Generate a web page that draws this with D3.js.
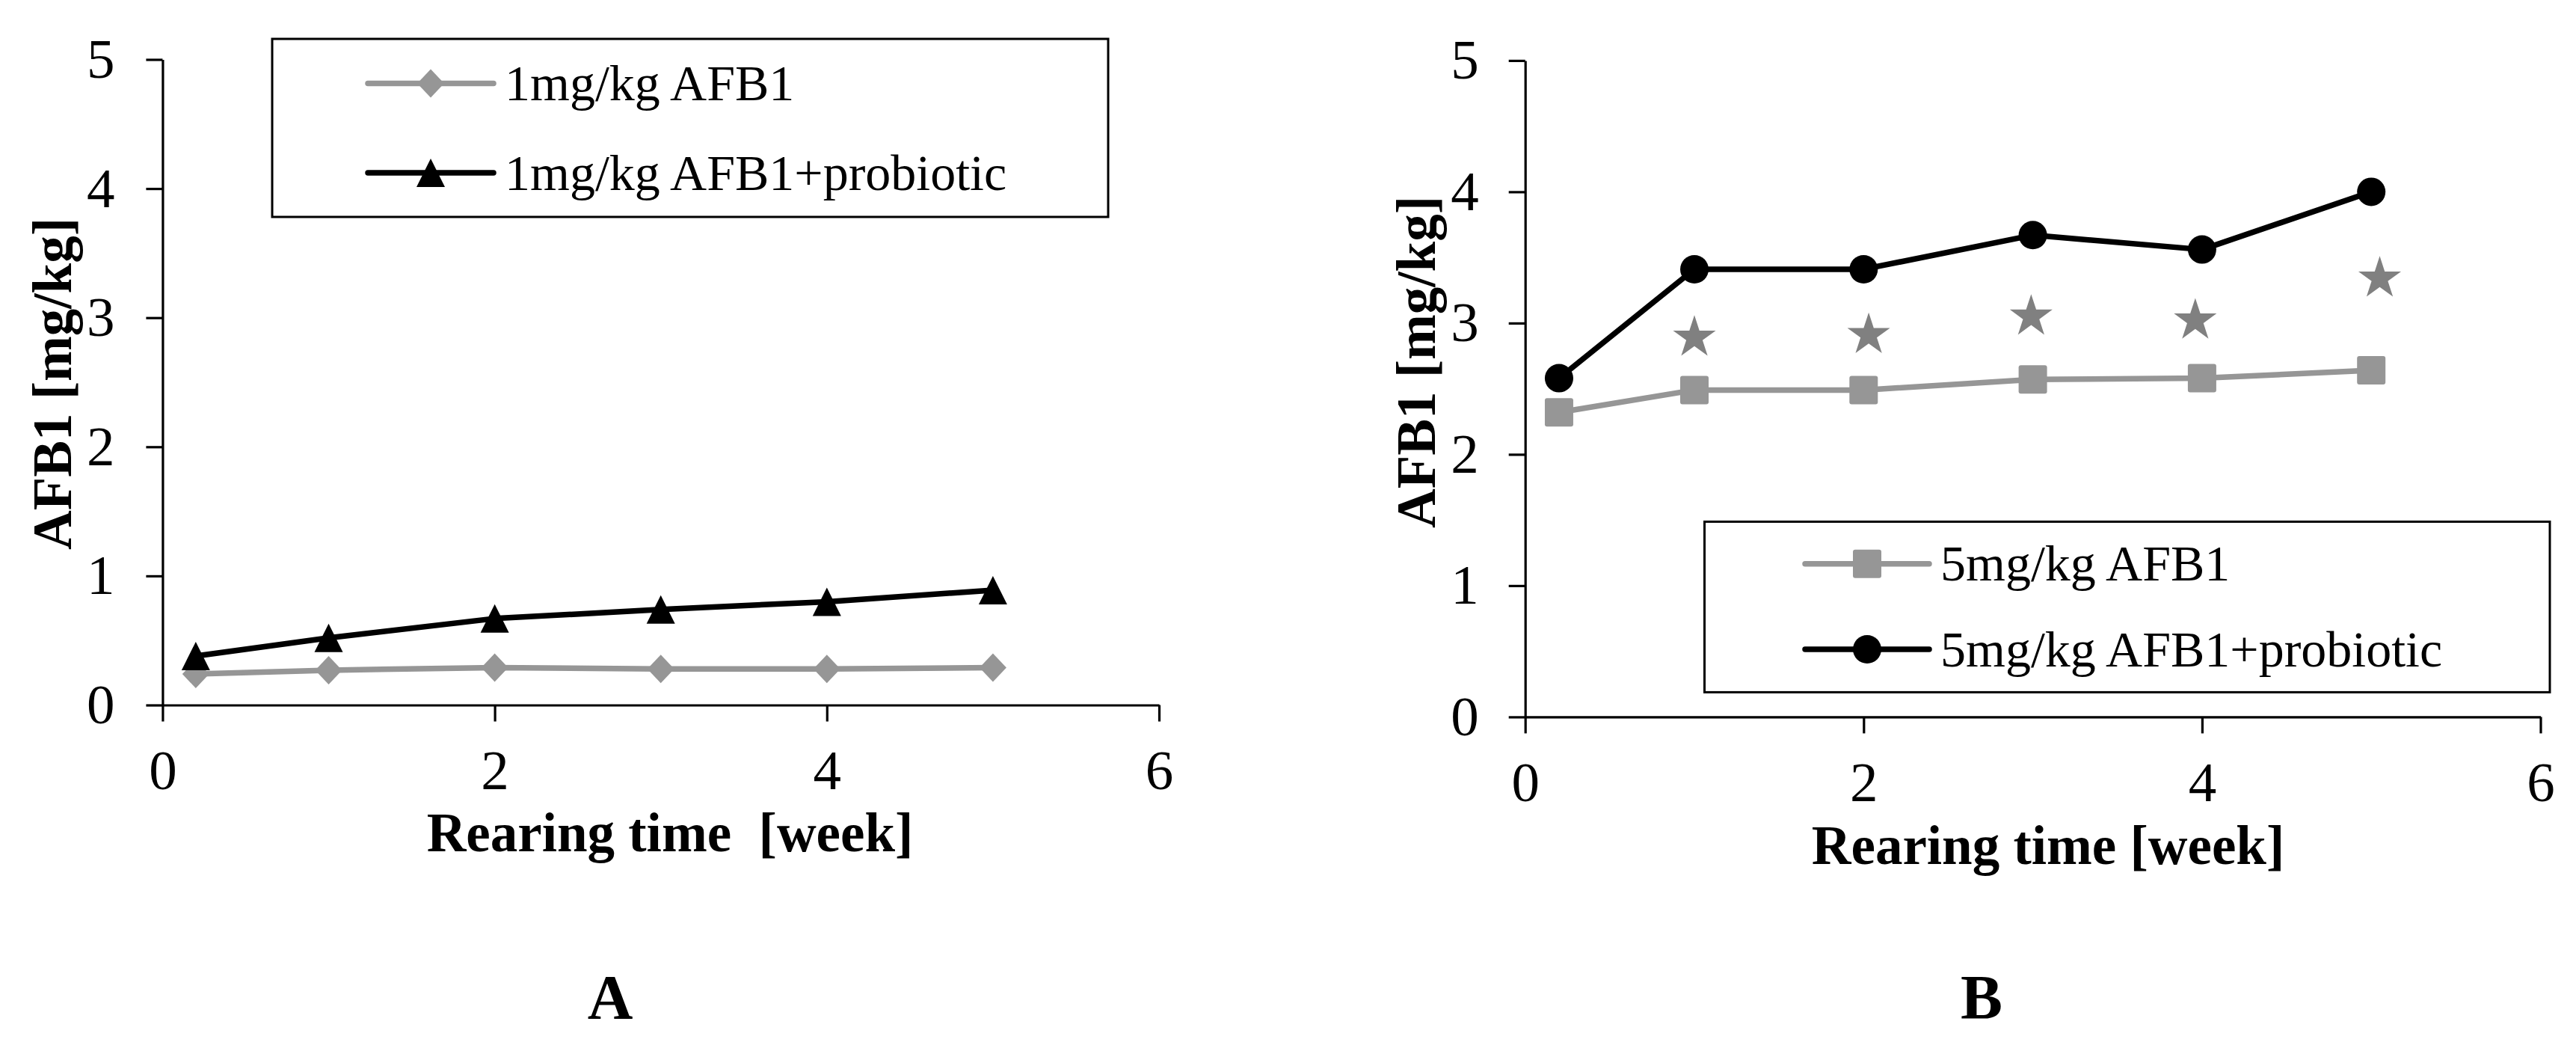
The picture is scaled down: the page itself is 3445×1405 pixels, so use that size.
<!DOCTYPE html>
<html>
<head>
<meta charset="utf-8">
<script src="https://cdn.jsdelivr.net/npm/d3@7"></script>
<style>
  body { margin: 0; background: #fff; }
  text { font-family: "Liberation Serif", "Times New Roman", serif; }
</style>
</head>
<body>
<svg id="chart"></svg>
<script>
// Data (AFB1 residue, mg/kg, by rearing week)
const weeks = [0.2, 1, 2, 3, 4, 5];
const afb1Low = [0.24, 0.27, 0.29, 0.28, 0.28, 0.29];
const afb1LowProbiotic = [0.38, 0.52, 0.67, 0.74, 0.80, 0.89];
const afb1High = [2.32, 2.49, 2.49, 2.57, 2.58, 2.64];
const afb1HighProbiotic = [2.58, 3.41, 3.41, 3.67, 3.56, 4.00];
const starWeeks = [1.0, 2.03, 2.99, 3.96, 5.05];
const starValues = [2.89, 2.91, 3.05, 3.02, 3.34];
const xTicks = [0, 2, 4, 6];
const yTicks = [0, 1, 2, 3, 4, 5];
const legendLow = ["1mg/kg AFB1", "1mg/kg AFB1+probiotic"];
const legendHigh = ["5mg/kg AFB1", "5mg/kg AFB1+probiotic"];

const GRAY = "#969696";
const STAR_GRAY = "#808080";
const BLACK = "#000";

const markers = {
  diamond: "M0,-19L18,0L0,19L-18,0Z",
  triangle: "M0,-19L19,19L-19,19Z",
  square: "M-19,-16Q-19,-19 -16,-19H16Q19,-19 19,-16V16Q19,19 16,19H-16Q-19,19 -19,16Z",
  circle: d3.symbol(d3.symbolCircle, Math.PI * 19 * 19)()
};

const panels = [
  {
    letter: "A",
    letterPos: [816, 1362],
    xRange: [217.4, 1550],
    yRange: [942.5, 79.5],
    tickPad: 42,
    xTitle: "Rearing time  [week]",
    xTitlePos: [896, 1137.5],
    yTitlePos: [95, 513],
    series: [
      { values: afb1Low, color: GRAY, marker: "diamond", label: legendLow[0] },
      { values: afb1LowProbiotic, color: BLACK, marker: "triangle", label: legendLow[1] }
    ],
    legend: { x: 364, y: 52, w: 1118, h: 238, rows: [111.6, 231], line: [492, 660], marker: 576, textX: 675 }
  },
  {
    letter: "B",
    letterPos: [2650, 1362],
    xRange: [2039.7, 3397.5],
    yRange: [958.4, 80.9],
    tickPad: 40,
    xTitle: "Rearing time [week]",
    xTitlePos: [2739, 1154.6],
    yTitlePos: [1919, 484],
    series: [
      { values: afb1High, color: GRAY, marker: "square", label: legendHigh[0] },
      { values: afb1HighProbiotic, color: BLACK, marker: "circle", label: legendHigh[1] }
    ],
    stars: true,
    legend: { x: 2279.5, y: 697.4, w: 1130.5, h: 228, rows: [753.8, 868], line: [2414, 2580], marker: 2497, textX: 2595 }
  }
];

const svg = d3.select("#chart").attr("width", 3445).attr("height", 1405);
svg.append("rect").attr("width", 3445).attr("height", 1405).attr("fill", "#fff");

const drawPanel = p => {
  //Scales
  const x = d3.scaleLinear().domain([0, 6]).range(p.xRange);
  const y = d3.scaleLinear().domain([0, 5]).range(p.yRange);

  const g = svg.append("g");

  //Axes
  const styleAxis = sel => {
    sel.attr("font-size", 75).attr("font-family", null);
    sel.selectAll(".domain, .tick line").attr("stroke", BLACK).attr("stroke-width", 3.2);
    sel.selectAll("text").attr("fill", BLACK);
  };

  g.append("g")
    .attr("transform", `translate(0,${p.yRange[0]})`)
    .call(d3.axisBottom(x).tickValues(xTicks).tickFormat(d3.format("d"))
      .tickSize(22).tickSizeOuter(0).tickPadding(37))
    .call(styleAxis);

  g.append("g")
    .attr("transform", `translate(${p.xRange[0]},0)`)
    .call(d3.axisLeft(y).tickValues(yTicks).tickFormat(d3.format("d"))
      .tickSize(22).tickSizeOuter(0).tickPadding(p.tickPad))
    .call(styleAxis);

  //Axis titles
  g.append("text")
    .attr("x", p.xTitlePos[0]).attr("y", p.xTitlePos[1])
    .attr("text-anchor", "middle")
    .attr("font-size", 73).attr("font-weight", "bold")
    .style("white-space", "pre")
    .text(p.xTitle);

  g.append("text")
    .attr("transform", `translate(${p.yTitlePos[0]},${p.yTitlePos[1]}) rotate(-90)`)
    .attr("text-anchor", "middle")
    .attr("font-size", 73).attr("font-weight", "bold")
    .text("AFB1 [mg/kg]");

  g.append("text")
    .attr("x", p.letterPos[0]).attr("y", p.letterPos[1])
    .attr("text-anchor", "middle")
    .attr("font-size", 84).attr("font-weight", "bold")
    .text(p.letter);

  //Series
  const line = d3.line().x((d, i) => x(weeks[i])).y(d => y(d));

  p.series.forEach(s => {
    g.append("path")
      .attr("d", line(s.values))
      .attr("fill", "none")
      .attr("stroke", s.color)
      .attr("stroke-width", 7.5)
      .attr("stroke-linejoin", "round");

    g.selectAll(null)
      .data(s.values)
      .enter()
      .append("path")
      .attr("d", markers[s.marker])
      .attr("transform", (d, i) => `translate(${x(weeks[i])},${y(d)})`)
      .attr("fill", s.color);
  });

  // Significance stars between the two lines
  if (p.stars) {
    g.selectAll(null)
      .data(starValues)
      .enter()
      .append("path")
      .attr("d", d3.symbol(d3.symbolStar, 1010)())
      .attr("transform", (d, i) => `translate(${x(starWeeks[i])},${y(d)})`)
      .attr("fill", STAR_GRAY);
  }

  //Legend
  const L = p.legend;
  const lg = g.append("g");
  lg.append("rect")
    .attr("x", L.x).attr("y", L.y).attr("width", L.w).attr("height", L.h)
    .attr("fill", "#fff").attr("stroke", BLACK).attr("stroke-width", 3);

  p.series.forEach((s, i) => {
    const cy = L.rows[i];
    lg.append("line")
      .attr("x1", L.line[0]).attr("x2", L.line[1])
      .attr("y1", cy).attr("y2", cy)
      .attr("stroke", s.color).attr("stroke-width", 7.5)
      .attr("stroke-linecap", "round");
    lg.append("path")
      .attr("d", markers[s.marker])
      .attr("transform", `translate(${L.marker},${cy})`)
      .attr("fill", s.color);
    lg.append("text")
      .attr("x", L.textX).attr("y", cy + 22.5)
      .attr("font-size", 68)
      .text(s.label);
  });
};

panels.forEach(drawPanel);
</script>
</body>
</html>
